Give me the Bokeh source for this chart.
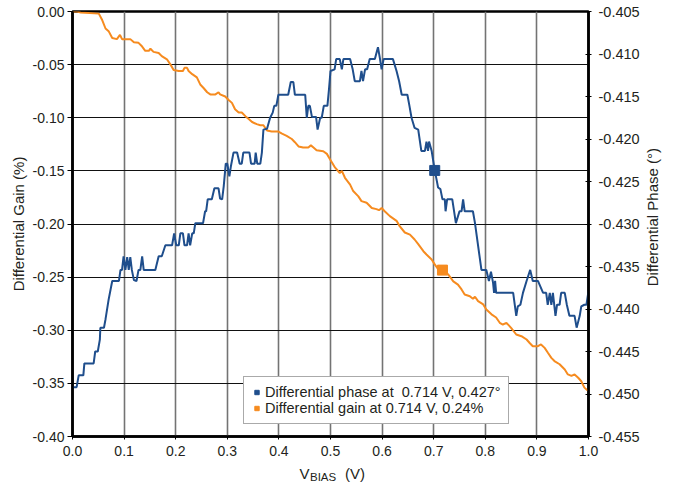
import math
from bokeh.plotting import figure
from bokeh.layouts import column, row
from bokeh.models import (Range1d, LinearAxis, FixedTicker, NumeralTickFormatter,
                          Legend, LegendItem)
from bokeh.core.properties import value
from bokeh.embed import file_html
from bokeh.resources import INLINE

# ---------------- data ----------------
vbias_gain = [0.000, 0.009, 0.016, 0.051, 0.057, 0.064, 0.070, 0.077, 0.086, 0.092,
              0.096, 0.112, 0.119, 0.128, 0.135, 0.141, 0.148, 0.151, 0.157, 0.167,
              0.173, 0.183, 0.190, 0.196, 0.206, 0.214, 0.217, 0.222, 0.225, 0.232,
              0.241, 0.248, 0.254, 0.261, 0.267, 0.277, 0.283, 0.286, 0.296, 0.302,
              0.309, 0.315, 0.322, 0.328, 0.335, 0.341, 0.348, 0.357, 0.364, 0.370,
              0.377, 0.386, 0.399, 0.406, 0.415, 0.425, 0.431, 0.438, 0.447, 0.457,
              0.462, 0.467, 0.473, 0.486, 0.493, 0.499, 0.509, 0.518, 0.522, 0.528,
              0.538, 0.544, 0.554, 0.560, 0.570, 0.580, 0.589, 0.594, 0.599, 0.605,
              0.615, 0.628, 0.634, 0.644, 0.654, 0.663, 0.670, 0.680, 0.686, 0.696,
              0.702, 0.709, 0.718, 0.728, 0.738, 0.747, 0.754, 0.760, 0.770, 0.776,
              0.780, 0.786, 0.796, 0.802, 0.812, 0.821, 0.828, 0.834, 0.841, 0.850,
              0.860, 0.870, 0.880, 0.886, 0.892, 0.902, 0.908, 0.915, 0.921, 0.928,
              0.934, 0.944, 0.954, 0.960, 0.967, 0.973, 0.980, 0.986, 0.992, 0.999]
gain_pct = [0.000, 0.000, -0.001, -0.002, -0.0075, -0.016, -0.0185, -0.025, -0.026, -0.022,
            -0.026, -0.026, -0.029, -0.0295, -0.033, -0.037, -0.037, -0.035, -0.038, -0.039,
            -0.042, -0.045, -0.050, -0.055, -0.056, -0.056, -0.053, -0.053, -0.056, -0.059,
            -0.062, -0.069, -0.072, -0.076, -0.078, -0.078, -0.076, -0.078, -0.080, -0.083,
            -0.086, -0.092, -0.095, -0.095, -0.0985, -0.101, -0.104, -0.106, -0.107, -0.107,
            -0.112, -0.113, -0.113, -0.115, -0.117, -0.120, -0.123, -0.127, -0.128, -0.128,
            -0.126, -0.128, -0.1305, -0.1315, -0.134, -0.139, -0.147, -0.152, -0.150, -0.1565,
            -0.163, -0.169, -0.174, -0.1785, -0.180, -0.185, -0.186, -0.187, -0.185, -0.188,
            -0.1926, -0.197, -0.202, -0.208, -0.210, -0.2146, -0.219, -0.2256, -0.2287, -0.2334,
            -0.238, -0.2428, -0.2445, -0.2475, -0.254, -0.257, -0.2616, -0.2663, -0.268, -0.2704,
            -0.2685, -0.2726, -0.2757, -0.2805, -0.285, -0.288, -0.293, -0.2946, -0.293, -0.2977,
            -0.304, -0.3056, -0.3087, -0.312, -0.315, -0.315, -0.3134, -0.3166, -0.321, -0.326,
            -0.329, -0.332, -0.337, -0.3416, -0.343, -0.3416, -0.3447, -0.348, -0.354, -0.357]

vbias_phase = [0.000, 0.008, 0.012, 0.021, 0.023, 0.041, 0.044, 0.049, 0.053, 0.054,
               0.061, 0.064, 0.070, 0.077, 0.090, 0.093, 0.096, 0.099, 0.1025, 0.106,
               0.109, 0.112, 0.115, 0.119, 0.124, 0.128, 0.1315, 0.135, 0.138, 0.1605,
               0.167, 0.173, 0.180, 0.193, 0.197, 0.201, 0.206, 0.209, 0.214, 0.217,
               0.222, 0.225, 0.228, 0.232, 0.235, 0.238, 0.253, 0.257, 0.259, 0.262,
               0.270, 0.275, 0.283, 0.286, 0.290, 0.293, 0.297, 0.300, 0.304, 0.307,
               0.312, 0.319, 0.324, 0.328, 0.331, 0.343, 0.346, 0.353, 0.355, 0.358,
               0.364, 0.367, 0.370, 0.377, 0.383, 0.388, 0.391, 0.395, 0.399, 0.418,
               0.423, 0.428, 0.431, 0.451, 0.454, 0.457, 0.460, 0.464, 0.472, 0.475,
               0.480, 0.483, 0.487, 0.494, 0.497, 0.500, 0.508, 0.511, 0.518, 0.522,
               0.525, 0.538, 0.543, 0.547, 0.557, 0.560, 0.563, 0.567, 0.571, 0.576,
               0.586, 0.592, 0.596, 0.599, 0.603, 0.621, 0.628, 0.633, 0.638, 0.649,
               0.653, 0.657, 0.663, 0.670, 0.676, 0.683, 0.686, 0.689, 0.691, 0.696,
               0.702, 0.705, 0.7085, 0.713, 0.717, 0.7215, 0.723, 0.726, 0.736, 0.743,
               0.750, 0.754, 0.757, 0.760, 0.776, 0.780, 0.7925, 0.802, 0.807, 0.811,
               0.815, 0.817, 0.819, 0.821, 0.854, 0.860, 0.863, 0.868, 0.873, 0.880,
               0.887, 0.892, 0.902, 0.912, 0.918, 0.921, 0.925, 0.928, 0.931, 0.936,
               0.939, 0.944, 0.947, 0.954, 0.958, 0.963, 0.973, 0.977, 0.983, 0.986,
               0.992, 0.996, 1.000]
phase_deg = [-0.4492, -0.4492, -0.4478, -0.4478, -0.4464, -0.4464, -0.4450, -0.4450, -0.4436, -0.4422,
             -0.4422, -0.4412, -0.4389, -0.4367, -0.4367, -0.4354, -0.4354, -0.4338, -0.4354, -0.4339,
             -0.4354, -0.4339, -0.4354, -0.4366, -0.4367, -0.4354, -0.4354, -0.4338, -0.4354, -0.4354,
             -0.4338, -0.4338, -0.4325, -0.4325, -0.4311, -0.4325, -0.4325, -0.4311, -0.4311, -0.4325,
             -0.4325, -0.4311, -0.4325, -0.4311, -0.4311, -0.4299, -0.4299, -0.4285, -0.4285, -0.4271,
             -0.4271, -0.4258, -0.4258, -0.4270, -0.4271, -0.4256, -0.4229, -0.4229, -0.4244, -0.4232,
             -0.4216, -0.4216, -0.4229, -0.4229, -0.4216, -0.4216, -0.4229, -0.4229, -0.4216, -0.4229,
             -0.4229, -0.4216, -0.4189, -0.4188, -0.4175, -0.4169, -0.4161, -0.4161, -0.4148, -0.4148,
             -0.4133, -0.4133, -0.4148, -0.4148, -0.4175, -0.4161, -0.4161, -0.4174, -0.4174, -0.4189,
             -0.4175, -0.4175, -0.4161, -0.4161, -0.4142, -0.4120, -0.4118, -0.4106, -0.4106, -0.4118,
             -0.4106, -0.4106, -0.4118, -0.4132, -0.4132, -0.4120, -0.4132, -0.4118, -0.4118, -0.4106,
             -0.4106, -0.4092, -0.4106, -0.4118, -0.4106, -0.4106, -0.4120, -0.4132, -0.4148, -0.4148,
             -0.4161, -0.4175, -0.4187, -0.4189, -0.4214, -0.4214, -0.4203, -0.4214, -0.4203, -0.4214,
             -0.4237, -0.4246, -0.4257, -0.4259, -0.4271, -0.4271, -0.4285, -0.4271, -0.4271, -0.4299,
             -0.4285, -0.4285, -0.4271, -0.4285, -0.4285, -0.4299, -0.4354, -0.4354, -0.4367, -0.4356,
             -0.4369, -0.4381, -0.4367, -0.4381, -0.4381, -0.4408, -0.4397, -0.4395, -0.4381, -0.4367,
             -0.4354, -0.4367, -0.4367, -0.4381, -0.4381, -0.4395, -0.4381, -0.4395, -0.4381, -0.4408,
             -0.4395, -0.4395, -0.4381, -0.4381, -0.4395, -0.4408, -0.4408, -0.4422, -0.4408, -0.4397,
             -0.4395, -0.4395, -0.4379]

marker_phase_v = [0.702]
marker_phase = [-0.4237]
marker_gain_v = [0.717]
marker_gain = [-0.2434]

x_ticks = [0.0, 0.1, 0.2, 0.3, 0.4, 0.5, 0.6, 0.7, 0.8, 0.9, 1.0]
gain_ticks = [-0.40, -0.35, -0.30, -0.25, -0.20, -0.15, -0.10, -0.05, 0.00]
phase_ticks = [-0.455, -0.450, -0.445, -0.440, -0.435, -0.430, -0.425, -0.420,
               -0.415, -0.410, -0.405]
legend_labels = ["Differential phase at  0.714 V, 0.427°",
                 "Differential gain at 0.714 V, 0.24%"]
x_title = ["V", "BIAS", "(V)"]
left_title = "Differential Gain (%)"
right_title = "Differential Phase (°)"

# ---------------- styling / layout ----------------
BLUE = "#1f4e8c"
ORANGE = "#f68b1f"
TXT = "#231f20"
FONT = "Liberation Sans"

FW, FH = 516, 425            # plot frame size
BL, BR, BT, BB = 72, 55, 11, 26
MAIN_W = BL + FW + BR         # 643
MAIN_H = BT + FH + BB         # 462
SIDE_W = 28
BOT_H = 20

p = figure(frame_width=FW, frame_height=FH,
           x_range=Range1d(0.0, 1.0), y_range=Range1d(-0.40, 0.0),
           output_backend="svg", toolbar_location=None,
           min_border_left=BL, min_border_right=BR,
           min_border_top=BT, min_border_bottom=BB,
           background_fill_color="white", border_fill_color="white")
p.extra_y_ranges = {"phase": Range1d(-0.455, -0.405)}

p.outline_line_color = "black"
p.outline_line_width = 2.5

xa = p.xaxis[0]
xa.ticker = FixedTicker(ticks=x_ticks)
xa.formatter = NumeralTickFormatter(format="0.0")
ya = p.yaxis[0]
ya.ticker = FixedTicker(ticks=gain_ticks)
ya.formatter = NumeralTickFormatter(format="0.00")
ya.axis_label = left_title
ya.axis_label_standoff = 3

ra = LinearAxis(y_range_name="phase", ticker=FixedTicker(ticks=phase_ticks),
                formatter=NumeralTickFormatter(format="0.000"))
p.add_layout(ra, "right")

for ax in (xa, ya, ra):
    ax.axis_line_color = "black"
    ax.axis_line_width = 2.5
    ax.major_tick_line_color = "black"
    ax.major_tick_line_width = 1
    ax.minor_tick_line_color = None
    ax.major_label_text_font = FONT
    ax.major_label_text_font_size = "14px"
    ax.major_label_text_color = TXT
    ax.axis_label_text_font = FONT
    ax.axis_label_text_font_size = "15px"
    ax.axis_label_text_font_style = "normal"
    ax.axis_label_text_color = TXT

ra.major_label_text_font_size = "14.5px"
xa.major_tick_in = 0
xa.major_tick_out = 3
xa.major_label_standoff = 6
ya.major_tick_in = 0
ya.major_tick_out = 5
ya.major_label_standoff = 3
ra.major_tick_in = 3
ra.major_tick_out = 3
ra.major_label_standoff = 7

p.xgrid.grid_line_color = "#737373"
p.xgrid.grid_line_width = 1.6
p.ygrid.grid_line_color = "#111111"
p.ygrid.grid_line_width = 1.2

p.line(vbias_gain, gain_pct, line_color=ORANGE, line_width=2)
p.line(vbias_phase, phase_deg, line_color=BLUE, line_width=2, y_range_name="phase")

r_ph = p.scatter(marker_phase_v, marker_phase, marker="square", size=10,
                 fill_color=BLUE, line_color=BLUE, y_range_name="phase")
r_g = p.scatter(marker_gain_v, marker_gain, marker="square", size=10,
                fill_color=ORANGE, line_color=ORANGE)

legend = Legend(items=[LegendItem(label=legend_labels[0], renderers=[r_ph]),
                       LegendItem(label=legend_labels[1], renderers=[r_g])],
                location=(171, 12), orientation="vertical",
                glyph_width=11, glyph_height=12, label_height=16,
                label_standoff=3, padding=7, spacing=0, margin=0,
                label_text_font=FONT, label_text_font_size="14.5px",
                label_text_color=TXT,
                border_line_color="#555555", border_line_width=1,
                background_fill_color="white", background_fill_alpha=1.0)
p.add_layout(legend)


def text_panel(w, h):
    f = figure(width=w, height=h, x_range=Range1d(0, w), y_range=Range1d(0, h),
               output_backend="svg", toolbar_location=None,
               x_axis_type=None, y_axis_type=None, min_border=0,
               background_fill_color="white", border_fill_color="white")
    f.outline_line_color = None
    f.grid.visible = False
    return f


# right-hand title panel (reads bottom to top)
pr = text_panel(SIDE_W, MAIN_H)
pr.text(x=[8.5], y=[MAIN_H - (BT + FH / 2)], text=[right_title], angle=math.pi / 2,
        text_font=value(FONT), text_font_size="15px", text_color=TXT,
        text_align="center", text_baseline="middle")

# bottom title panel: V with subscript BIAS, then (V)
pb = text_panel(MAIN_W + SIDE_W, BOT_H)
cx = BL + FW / 2
pb.text(x=[cx - 31], y=[9.5], text=[x_title[0]], text_font=value(FONT),
        text_font_size="15px", text_color=TXT, text_align="left",
        text_baseline="alphabetic")
pb.text(x=[cx - 20.5], y=[6], text=[x_title[1]], text_font=value(FONT),
        text_font_size="11.5px", text_color=TXT, text_align="left",
        text_baseline="alphabetic")
pb.text(x=[cx + 14.5], y=[9.5], text=[x_title[2]], text_font=value(FONT),
        text_font_size="15px", text_color=TXT, text_align="left",
        text_baseline="alphabetic")

layout = column(row(p, pr, spacing=0), pb, spacing=0)

open("out.html", "w").write(file_html(layout, INLINE))
